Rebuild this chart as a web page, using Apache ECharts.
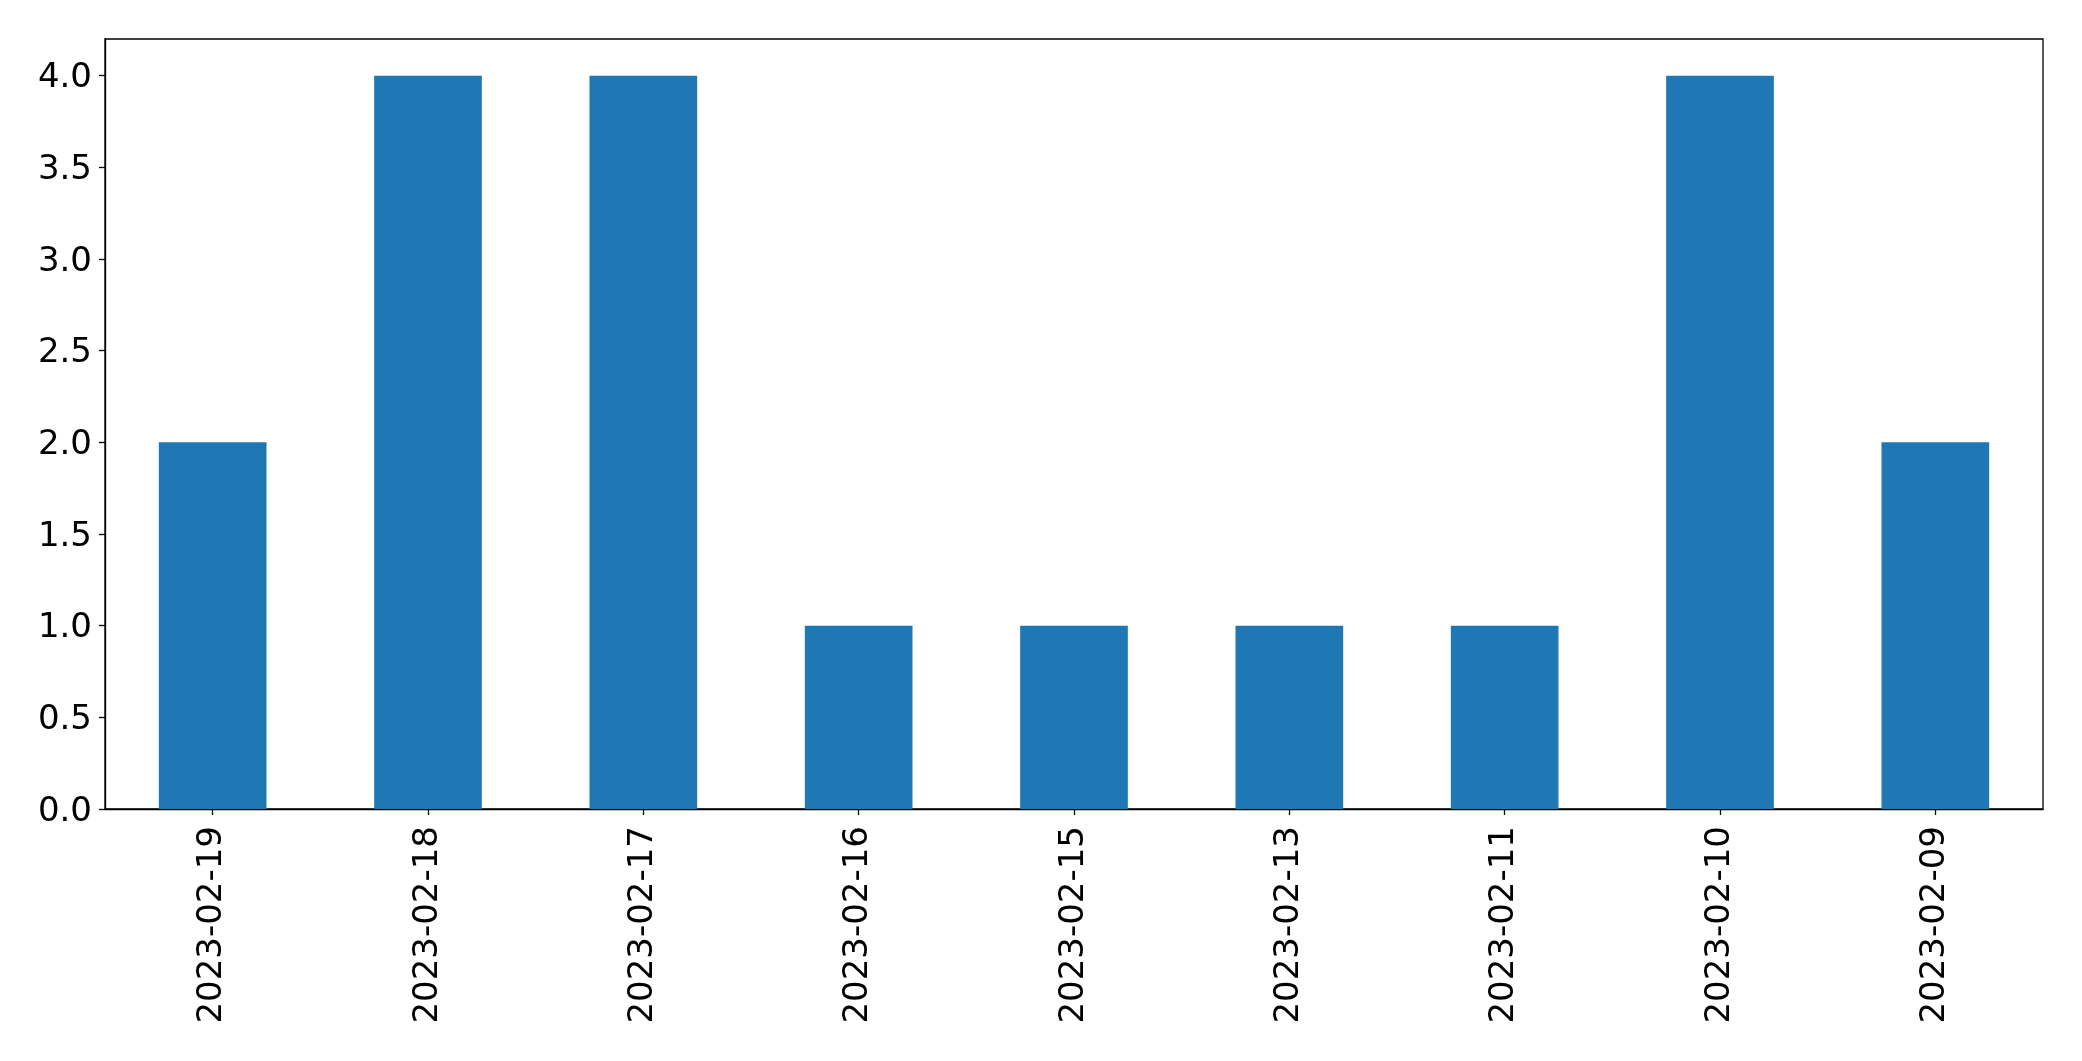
<!DOCTYPE html>
<html>
<head>
<meta charset="utf-8">
<script src="https://cdn.jsdelivr.net/npm/echarts@6/dist/echarts.min.js"></script>
<style>
html,body{margin:0;padding:0;background:#fff;}
#chart{width:2082px;height:1061px;}
</style>
</head>
<body>
<div id="chart"></div>
<script>
const categories = ["2023-02-19","2023-02-18","2023-02-17","2023-02-16","2023-02-15","2023-02-13","2023-02-11","2023-02-10","2023-02-09"];
const values = [2,4,4,1,1,1,1,4,2];
const yTicks = [0,0.5,1.0,1.5,2.0,2.5,3.0,3.5,4.0];

const chart = echarts.init(document.getElementById('chart'), null, {renderer:'canvas'});
const font = "DejaVu Sans";
chart.setOption({
  animation:false,
  backgroundColor:'#fff',
  grid:{left:105, top:39, right:39, bottom:252, show:true, borderColor:'#000', borderWidth:1.3, backgroundColor:'transparent'},
  xAxis:{
    type:'category',
    data:categories,
    boundaryGap:true,
    axisLine:{show:true, lineStyle:{color:'#000', width:1.3}},
    axisTick:{show:true, alignWithLabel:true, length:6, lineStyle:{color:'#000', width:1.3}},
    axisLabel:{rotate:90, fontSize:34, fontFamily:font, color:'#000', margin:17, interval:0},
    splitLine:{show:false}
  },
  yAxis:{
    type:'value',
    min:0, max:4.2,
    axisLine:{show:true, lineStyle:{color:'#000', width:1.3}},
    axisTick:{show:true, length:6, customValues:yTicks, lineStyle:{color:'#000', width:1.3}},
    axisLabel:{fontSize:34, fontFamily:font, color:'#000', margin:13, customValues:yTicks,
      formatter:v=>'{a|' + v.toFixed(1) + '}',
      rich:{a:{fontSize:34, fontFamily:font, color:'#000', padding:[6,0,0,0]}}},
    splitLine:{show:false}
  },
  series:[{
    type:'bar',
    data:values,
    barWidth:'50%',
    itemStyle:{color:'#1f77b4'}
  }]
});
</script>
</body>
</html>
